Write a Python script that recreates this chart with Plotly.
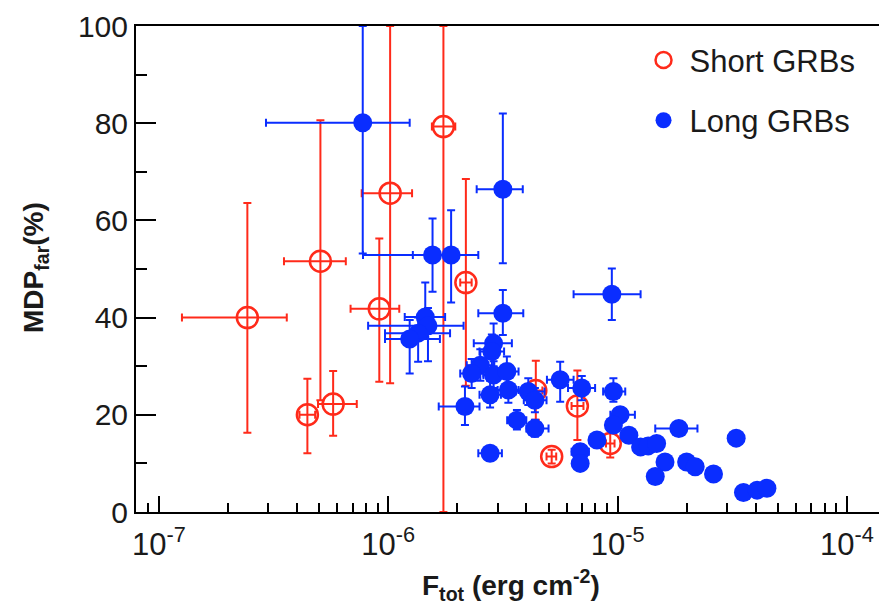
import numpy as np
import plotly.graph_objects as go

# ---- Short GRBs (open red circles) ----
short_x   = [2.43e-7, 5.06e-7, 4.44e-7, 5.75e-7, 9.14e-7, 1.019e-6, 1.74e-6, 2.18e-6, 6.68e-6, 5.16e-6, 9.29e-6, 4.4e-6]
short_y   = [40.0, 51.6, 20.0, 22.2, 41.8, 65.6, 79.3, 47.2, 21.8, 11.4, 14.1, 25.0]
short_xlo = [1.26e-7, 3.51e-7, 4.10e-7, 4.94e-7, 6.85e-7, 7.66e-7, 1.55e-6, 2.06e-6, 6.30e-6, 4.90e-6, 8.90e-6, 4.10e-6]
short_xhi = [3.61e-7, 6.53e-7, 4.80e-7, 7.29e-7, 1.117e-6, 1.27e-6, 1.96e-6, 2.31e-6, 7.10e-6, 5.40e-6, 9.70e-6, 4.70e-6]
short_ylo = [16.3, 23.0, 12.1, 15.7, 26.8, 26.5, 0.0, 26.0, 14.8, 10.0, 11.2, 19.0]
short_yhi = [63.6, 80.6, 27.4, 29.0, 56.3, 100.0, 100.0, 68.5, 29.1, 12.8, 17.0, 31.1]

# ---- Long GRBs (filled blue circles) ----
long_x = [7.74e-7, 1.56e-6, 1.88e-6, 3.16e-6, 9.44e-6, 3.16e-6, 1.45e-6, 1.49e-6, 1.35e-6, 1.24e-6,
          2.88e-6, 2.83e-6, 2.52e-6, 2.31e-6, 2.88e-6, 3.29e-6, 2.78e-6, 3.34e-6, 2.16e-6, 4.08e-6,
          4.36e-6, 5.62e-6, 6.98e-6, 3.64e-6, 4.36e-6, 2.78e-6, 6.87e-6, 6.87e-6, 8.13e-6, 9.59e-6,
          1.026e-5, 9.59e-6, 1.12e-5, 1.26e-5, 1.36e-5, 1.48e-5, 1.85e-5, 1.61e-5, 1.46e-5, 2.0e-5,
          2.18e-5, 2.62e-5, 3.29e-5, 3.54e-5, 4.06e-5, 4.48e-5]
long_y = [80.1, 52.9, 52.9, 66.4, 44.8, 40.9, 40.1, 38.3, 36.8, 35.6,
          34.7, 33.0, 30.2, 28.5, 28.2, 28.9, 24.1, 25.1, 21.7, 24.8,
          23.0, 27.2, 25.5, 18.9, 17.2, 12.1, 12.4, 10.0, 14.8, 24.8,
          20.0, 17.9, 15.8, 13.4, 13.6, 14.1, 17.2, 10.3, 7.3, 10.3,
          9.3, 7.8, 15.2, 4.0, 4.5, 4.9]
long_xlo = [2.93e-7, 7.76e-7, 1.28e-6, 2.43e-6, 6.43e-6, 2.47e-6, 1.18e-6, 8.17e-7, 9.68e-7, 9.68e-7,
            2.36e-6, 2.50e-6, 2.20e-6, 2.06e-6, 2.60e-6, 2.90e-6, 2.50e-6, 3.00e-6, 1.66e-6, 3.60e-6,
            3.90e-6, 4.92e-6, 6.08e-6, 3.30e-6, 4.00e-6, 2.47e-6, 6.30e-6, 6.50e-6, 7.60e-6, 8.65e-6,
            9.30e-6, 9.00e-6, 1.05e-5, 1.18e-5, 1.28e-5, 1.40e-5, 1.46e-5, 1.52e-5, 1.38e-5, 1.90e-5,
            2.08e-5, 2.50e-5, 3.15e-5, 3.40e-5, 3.90e-5, 4.30e-5]
long_xhi = [1.24e-6, 1.86e-6, 2.47e-6, 3.86e-6, 1.26e-5, 3.88e-6, 1.77e-6, 2.13e-6, 1.86e-6, 1.68e-6,
            3.46e-6, 3.20e-6, 2.90e-6, 2.60e-6, 3.20e-6, 3.70e-6, 3.10e-6, 3.70e-6, 2.50e-6, 4.80e-6,
            4.90e-6, 6.43e-6, 7.98e-6, 4.00e-6, 5.00e-6, 3.13e-6, 7.50e-6, 7.30e-6, 8.70e-6, 1.08e-5,
            1.19e-5, 1.02e-5, 1.20e-5, 1.34e-5, 1.45e-5, 1.57e-5, 2.23e-5, 1.70e-5, 1.55e-5, 2.10e-5,
            2.28e-5, 2.75e-5, 3.43e-5, 3.70e-5, 4.22e-5, 4.66e-5]
long_ylo = [53.2, 45.3, 43.1, 51.2, 39.5, 36.4, 36.0, 31.0, 30.9, 28.5,
            30.0, 29.5, 27.0, 25.5, 25.5, 25.5, 21.5, 22.5, 17.9, 22.0,
            20.5, 22.7, 23.0, 17.0, 15.5, 11.0, 11.0, 9.0, 13.5, 22.7,
            18.5, 16.5, 14.5, 12.3, 12.5, 13.0, 16.0, 9.3, 6.4, 9.4,
            8.5, 7.0, 14.4, 3.3, 3.8, 4.2]
long_yhi = [100.0, 60.4, 62.1, 82.0, 50.1, 45.7, 47.2, 42.0, 40.0, 39.5,
            38.8, 36.5, 33.5, 31.5, 31.0, 32.0, 27.0, 28.0, 25.8, 27.5,
            25.5, 30.9, 28.0, 21.0, 19.0, 13.2, 14.0, 11.0, 16.0, 27.5,
            21.5, 19.3, 17.0, 14.5, 14.7, 15.2, 18.4, 11.3, 8.2, 11.2,
            10.1, 8.6, 16.0, 4.7, 5.2, 5.6]

x_tickvals = [1e-7, 1e-6, 1e-5, 1e-4]
x_ticktext = ["10<sup>-7</sup>", "10<sup>-6</sup>", "10<sup>-5</sup>", "10<sup>-4</sup>"]
y_tickvals = [0, 20, 40, 60, 80, 100]

RED = "#ff2a1a"
BLUE = "#0a2dff"
FONT = "Liberation Sans, Arial, Helvetica, sans-serif"
TXT = "#1a1a1a"


def errs(v, lo, hi):
    v, lo, hi = map(np.asarray, (v, lo, hi))
    return (hi - v).tolist(), (v - lo).tolist()


sxp, sxm = errs(short_x, short_xlo, short_xhi)
syp, sym = errs(short_y, short_ylo, short_yhi)
lxp, lxm = errs(long_x, long_xlo, long_xhi)
lyp, lym = errs(long_y, long_ylo, long_yhi)

fig = go.Figure()
fig.add_trace(go.Scatter(
    x=short_x, y=short_y, mode="markers", name="Short GRBs",
    marker=dict(symbol="circle-open", size=21, color=RED, line=dict(width=2.5, color=RED)),
    error_x=dict(type="data", array=sxp, arrayminus=sxm, color=RED, thickness=2, width=4),
    error_y=dict(type="data", array=syp, arrayminus=sym, color=RED, thickness=2, width=4),
    legendgroup="s",
))
fig.add_trace(go.Scatter(
    x=long_x, y=long_y, mode="markers", name="Long GRBs",
    marker=dict(symbol="circle", size=19, color=BLUE),
    error_x=dict(type="data", array=lxp, arrayminus=lxm, color=BLUE, thickness=2, width=4),
    error_y=dict(type="data", array=lyp, arrayminus=lym, color=BLUE, thickness=2, width=4),
    legendgroup="l",
))

fig.update_layout(
    width=879, height=608,
    margin=dict(l=136, r=0, t=26, b=96),
    paper_bgcolor="white", plot_bgcolor="white",
    font=dict(family=FONT, size=30, color=TXT),
    showlegend=True,
    legend=dict(x=0.675, y=0.985, xanchor="left", yanchor="top", itemwidth=42,
                font=dict(size=31, family=FONT, color=TXT),
                bgcolor="rgba(0,0,0,0)", tracegroupgap=17),
    xaxis=dict(type="log", range=[-7.1, -3.86], tickvals=x_tickvals, ticktext=x_ticktext,
               ticks="inside", ticklen=16, tickwidth=2, tickcolor="black",
               showline=True, linecolor="black", linewidth=2, mirror=True,
               showgrid=False, zeroline=False, ticklabelstandoff=4,
               minor=dict(ticks="inside", ticklen=9, tickwidth=2, tickcolor="black", dtick="D1", showgrid=False),
               tickfont=dict(size=31, family=FONT, color=TXT)),
    yaxis=dict(range=[0, 100], tickvals=y_tickvals,
               ticks="inside", ticklen=20, tickwidth=2, tickcolor="black",
               showline=True, linecolor="black", linewidth=2, mirror=False,
               showgrid=False, zeroline=False,
               minor=dict(ticks="inside", ticklen=11, tickwidth=2, tickcolor="black", dtick=10, showgrid=False),
               tickfont=dict(size=30, family=FONT, color=TXT)),
    annotations=[
        dict(text="<b>F<sub>tot</sub> (erg cm<sup>-2</sup>)</b>", xref="paper", yref="paper",
             x=0.505, y=-0.15, xanchor="center", yanchor="middle", showarrow=False,
             font=dict(size=28, family=FONT, color=TXT)),
        dict(text="<b>MDP<sub>far</sub>(%)</b>", xref="paper", yref="paper",
             x=-0.136, y=0.504, xanchor="center", yanchor="middle", showarrow=False, textangle=-90,
             font=dict(size=28, family=FONT, color=TXT)),
    ],
)

fig.write_html("out.html")
